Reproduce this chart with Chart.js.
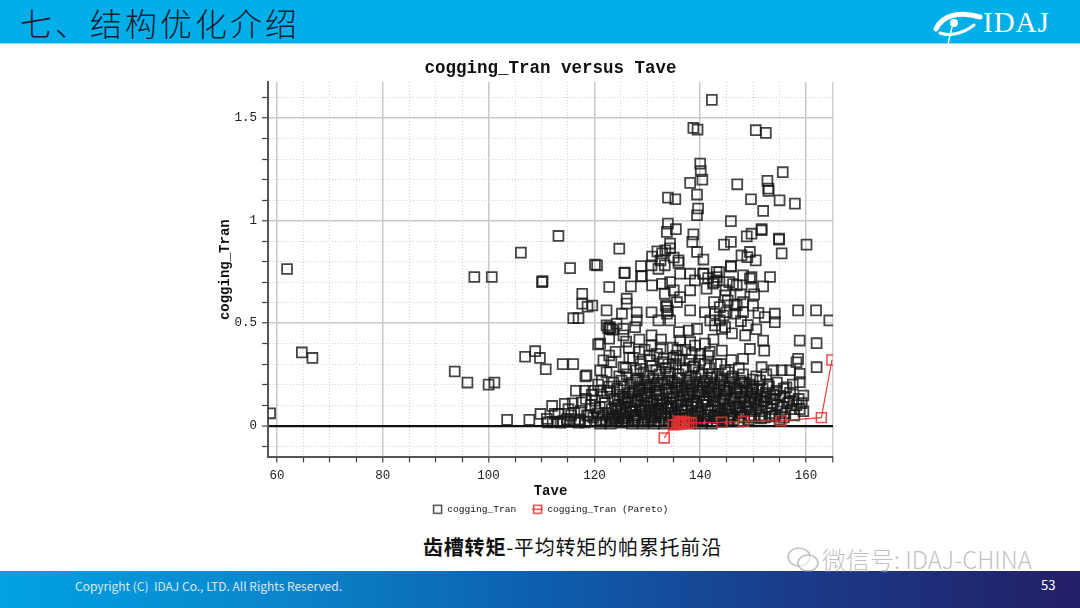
<!DOCTYPE html>
<html><head><meta charset="utf-8">
<script src="https://cdn.jsdelivr.net/npm/chart.js@4.4.1/dist/chart.umd.min.js"></script>
<style>
html,body{margin:0;padding:0;width:1080px;height:608px;overflow:hidden;background:#fff;font-family:'Noto Sans CJK SC',sans-serif;}
#hdr{position:absolute;left:0;top:0;width:1080px;height:44px;background:#00aee8;}
#hline{position:absolute;left:0;top:43px;width:1080px;height:1px;background:#8ad8f4;}
#htitle{position:absolute;left:20px;top:2px;font-size:32px;line-height:40px;color:#1b1d33;font-weight:300;letter-spacing:3px;}
#logo{position:absolute;left:930px;top:3px;}
#logotxt{position:absolute;left:983px;top:5px;font-family:'Liberation Serif',serif;font-size:29px;line-height:34px;color:#fff;letter-spacing:1px;}
#box{position:absolute;left:200px;top:55px;width:701px;height:469px;}
#caption{position:absolute;left:423px;top:533px;font-size:20px;line-height:28px;color:#111;letter-spacing:0.8px;white-space:nowrap;}
#caption b{font-weight:700;}
#wm{position:absolute;left:822px;top:544px;font-size:24px;line-height:30px;color:rgba(140,140,140,0.55);font-weight:300;white-space:nowrap;text-shadow:0 0 2px #fff;}
#wmicon{position:absolute;left:786px;top:545px;}
#ftr{position:absolute;left:0;top:571px;width:1080px;height:37px;background:linear-gradient(to right,#00a2e2 0%,#0a86cc 25%,#0d5fae 50%,#1a3d8c 72%,#231f66 100%);}
#copy{position:absolute;left:75px;top:578px;font-size:12px;line-height:16px;color:#dce8f6;white-space:nowrap;}
#pg{position:absolute;left:1041px;top:576px;font-size:13px;line-height:18px;color:#fff;}
</style></head>
<body>
<div id="hdr"></div><div id="hline"></div>
<div id="htitle">七、结构优化介绍</div>
<svg id="logo" width="56" height="42" viewBox="0 0 56 42">
 <path d="M6 26 C 12 12, 30 8, 50 14" stroke="#fff" stroke-width="5" fill="none" stroke-linecap="round"/>
 <circle cx="24" cy="20" r="4" fill="#fff"/>
 <path d="M22 24 L 18 41" stroke="#fff" stroke-width="1.5"/>
 <path d="M10 30 C 20 34, 34 30, 44 22" stroke="#fff" stroke-width="3" fill="none" stroke-linecap="round"/>
</svg>
<div id="logotxt">IDAJ</div>
<div id="box"><canvas id="c"></canvas></div>
<div id="caption"><b>齿槽转矩</b>-平均转矩的帕累托前沿</div>
<div id="ftr"></div>
<svg id="wmicon" width="36" height="30" viewBox="0 0 36 30">
 <ellipse cx="13" cy="12" rx="11" ry="9" stroke="rgba(150,150,150,0.6)" stroke-width="1.5" fill="none"/>
 <ellipse cx="22" cy="18" rx="10" ry="8" stroke="rgba(150,150,150,0.6)" stroke-width="1.5" fill="rgba(255,255,255,0.6)"/>
</svg>
<div id="wm">微信号: IDAJ-CHINA</div>
<div id="copy">Copyright (C)&nbsp; IDAJ Co., LTD. All Rights Reserved.</div>
<div id="pg">53</div>
<script>
// ---- data (Tave, cogging_Tran) ----
const outlierPts = [[58.7,0.06],[61.9,0.764],[64.7,0.357],[66.7,0.33],[93.6,0.264],[96.0,0.21],[97.3,0.725],[100.6,0.725],[100.0,0.20],[101.1,0.21],[103.5,0.028],[106.1,0.844],[107.7,0.028],[106.9,0.336],[108.8,0.363],[109.7,0.33],[110.1,0.70],[110.2,0.705],[110.8,0.275],[109.8,0.057],[113.2,0.925],[115.4,0.768],[114.0,0.30],[116.0,0.30],[117.7,0.643],[117.7,0.595],[118.7,0.58],[116.0,0.524],[117.0,0.524],[120.1,0.785],[120.7,0.396],[118.3,0.24],[118.5,0.245]];
const upperPts = [[142.2,1.589],[138.7,1.452],[139.5,1.444],[140.0,1.278],[140.1,1.241],[140.4,1.20],[138.1,1.184],[139.4,1.127],[133.9,1.112],[135.3,1.104],[139.6,1.059],[139.4,1.026],[133.9,0.985],[135.4,0.958],[133.7,0.945],[138.7,0.933],[138.5,0.896],[124.7,0.863],[139.4,0.847],[140.6,0.81],[134.3,0.888],[134.3,0.865],[133.4,0.855],[132.8,0.84],[131.9,0.85],[130.9,0.825],[132.5,0.806],[135.0,0.82],[135.9,0.795],[120.5,0.782],[125.7,0.746],[128.8,0.778],[129.0,0.729],[130.8,0.782],[132.1,0.765],[133.3,0.782],[135.9,0.806],[136.2,0.741],[138.1,0.741],[140.6,0.741],[143.1,0.749],
[150.5,1.441],[152.4,1.428],[155.6,1.236],[147.0,1.177],[152.7,1.194],[152.9,1.156],[152.9,1.145],[149.6,1.104],[155.0,1.099],[157.9,1.083],[151.9,1.047],[145.8,0.997],[151.6,0.953],[151.6,0.958],[149.7,0.936],[148.8,0.923],[145.8,0.896],[144.5,0.883],[154.9,0.907],[154.9,0.912],[160.1,0.883],[155.4,0.84],[149.4,0.847],[147.8,0.83],[148.9,0.822],[150.5,0.806],[145.8,0.775],[145.8,0.779],[143.6,0.749],[143.1,0.725],[148.1,0.733],[149.7,0.725],[153.2,0.725]];
const midPts = [[143.1,0.708],[149.4,0.717],[151.9,0.679],[149.7,0.676],[146.9,0.684],[148.1,0.602],[144.7,0.635],[144.4,0.537],[143.7,0.513],[146.6,0.546],[152.2,0.529],[154.1,0.546],[154.1,0.505],[158.5,0.562],[161.9,0.562],[164.4,0.513],
[142.6,0.603],[143.7,0.578],[142.8,0.546],[145.0,0.553],[146.9,0.586],[148.1,0.553],[142.8,0.489],[144.7,0.48],[142.6,0.70],[141.5,0.72],
[145.5,0.70],[146.2,0.69],[144.8,0.66],[147.6,0.64],[150.2,0.64],[145.2,0.61],[146.5,0.59],[147.7,0.51],[149.0,0.49],[150.6,0.47],[146.0,0.45],[148.5,0.44],[151.0,0.55],[150.0,0.585],
[125.7,0.744],[128.8,0.728],[122.8,0.676],[126.9,0.679],[130.9,0.684],[132.8,0.692],[134.3,0.70],[135.0,0.66],[133.3,0.643],[136.2,0.627],[139.0,0.708],[140.6,0.741],[138.1,0.66],[141.2,0.668],[142.4,0.692],[126.1,0.619],[126.1,0.595],[122.3,0.562],[125.2,0.546],[128.0,0.553],[130.8,0.553],[133.7,0.578],[133.7,0.546],[135.6,0.602],[138.1,0.562],[132.1,0.513],[134.3,0.513],[140.9,0.553],[141.9,0.513],[119.6,0.586],[122.3,0.489],[123.0,0.472],[124.2,0.497],[125.5,0.472],[127.7,0.48],[128.0,0.513],[125.5,0.44],[121.1,0.40],[122.8,0.424],[136.0,0.456],[137.8,0.464],[139.4,0.472],[136.2,0.415],[138.1,0.407],[130.8,0.44],[130.8,0.391],[140.9,0.40],[140.0,0.35],[140.0,0.318],[121.7,0.318],[122.8,0.342],[121.1,0.269],[125.5,0.285],[128.7,0.277],[130.6,0.318],[133.1,0.326],[136.2,0.318],[138.7,0.285],
[122.6,0.476],[123.4,0.468],[122.9,0.48],[133.5,0.585],[133.9,0.56],
[144.1,0.472],[151.9,0.415],[152.1,0.366],[158.8,0.415],[162.0,0.402],[149.4,0.374],[144.1,0.366],[143.1,0.30],[148.1,0.326],[158.5,0.326],[158.2,0.309],[162.0,0.285],[151.6,0.285],[153.8,0.269],[155.4,0.27],[157.0,0.27],[158.8,0.253],[158.8,0.212],[156.3,0.187],[159.5,0.147],[155.1,0.147],
[124.0,0.36],[126.5,0.38],[127.3,0.33],[129.5,0.37],[131.8,0.35],[132.6,0.42],[134.8,0.38],[135.5,0.34],[137.2,0.37],[139.0,0.39],[141.8,0.36],[142.5,0.42],[134.0,0.30],[128.5,0.42],[126.0,0.41]];
const bandPtsA = [[111.2,0.016],[111.0,0.033],[112.1,0.018],[112.5,0.057],[112.0,0.096],[113.0,0.02],[113.6,0.014],[113.2,0.057],[114.1,0.022],[114.4,0.106],[114.8,0.03],[115.3,0.018],[115.6,0.05],[115.1,0.08],[116.3,0.025],[115.9,0.109],[116.5,0.17],[116.2,0.062],[117.6,0.112],[117.2,0.03],[117.0,0.015],[117.4,0.072],[118.2,0.016],[118.2,0.17],[118.6,0.05],[118.4,0.13],[118.9,0.049],[119.8,0.04],[119.3,0.1],[119.5,0.15],[119.2,0.02],[119.8,0.17],[120.1,0.122],[120.4,0.02],[120.6,0.06],[120.2,0.085],[120.7,0.2],[121.3,0.03],[121.0,0.09],[121.5,0.14],[121.2,0.17],[121.6,0.05],[121.4,0.22],[121.1,0.01]];
const bandPtsB = [[122.2,0.02],[122.6,0.06],[122.0,0.11],[122.4,0.16],[122.8,0.19],[122.3,0.26],[122.9,0.04],[123.1,0.01],[123.5,0.05],[123.3,0.08],[123.7,0.13],[123.0,0.17],[123.6,0.21],[123.4,0.03],[123.2,0.31],[124.2,0.02],[124.6,0.04],[124.0,0.09],[124.4,0.12],[124.8,0.15],[124.3,0.18],[124.7,0.24],[124.1,0.07],[125.2,0.015],[125.5,0.05],[125.0,0.08],[125.8,0.11],[125.3,0.14],[125.6,0.19],[125.1,0.22],[125.9,0.28],[125.4,0.035],[126.3,0.02],[126.0,0.06],[126.7,0.09],[126.2,0.12],[126.5,0.16],[126.8,0.2],[126.1,0.25],[126.6,0.33],[126.4,0.04],[127.1,0.01],[127.5,0.03],[127.3,0.07],[127.8,0.1],[127.0,0.13],[127.6,0.17],[127.2,0.21],[127.9,0.27],[127.4,0.05],[128.3,0.02],[128.0,0.05],[128.6,0.08],[128.2,0.12],[128.8,0.15],[128.4,0.19],[128.1,0.23],[128.7,0.3],[128.5,0.36],[129.2,0.01],[129.6,0.04],[129.0,0.07],[129.4,0.1],[129.8,0.14],[129.1,0.18],[129.5,0.22],[129.3,0.26],[129.7,0.06],[130.1,0.02],[130.5,0.05],[130.3,0.09],[130.8,0.12],[130.0,0.16],[130.6,0.2],[130.2,0.24],[130.9,0.29],[130.4,0.34],[130.7,0.03],[131.3,0.01],[131.0,0.04],[131.6,0.08],[131.2,0.11],[131.8,0.15],[131.4,0.19],[131.1,0.23],[131.7,0.27],[131.5,0.06]];
const bandPtsC = [[132.2,0.02],[132.6,0.05],[132.0,0.07],[132.8,0.1],[132.4,0.13],[132.1,0.17],[132.7,0.21],[132.3,0.25],[132.9,0.31],[132.5,0.38],[133.1,0.01],[133.5,0.03],[133.3,0.06],[133.8,0.09],[133.0,0.12],[133.6,0.16],[133.2,0.2],[133.9,0.24],[133.4,0.28],[134.2,0.02],[134.6,0.04],[134.0,0.08],[134.4,0.11],[134.8,0.14],[134.1,0.18],[134.7,0.22],[134.3,0.26],[134.9,0.33],[134.5,0.05],[135.1,0.01],[135.5,0.03],[135.3,0.06],[135.8,0.1],[135.0,0.13],[135.6,0.17],[135.2,0.21],[135.9,0.25],[135.4,0.3],[135.7,0.37],[136.3,0.015],[136.0,0.05],[136.6,0.08],[136.2,0.12],[136.8,0.15],[136.4,0.19],[136.1,0.23],[136.7,0.28],[136.5,0.035],[137.2,0.02],[137.6,0.04],[137.0,0.07],[137.4,0.1],[137.8,0.14],[137.1,0.18],[137.5,0.22],[137.3,0.27],[137.9,0.32],[138.1,0.01],[138.5,0.05],[138.3,0.09],[138.8,0.12],[138.0,0.16],[138.6,0.2],[138.2,0.24],[138.9,0.29],[138.4,0.35],[138.7,0.03],[139.3,0.02],[139.0,0.04],[139.6,0.07],[139.2,0.11],[139.8,0.15],[139.4,0.19],[139.1,0.23],[139.7,0.26],[140.2,0.01],[140.6,0.03],[140.0,0.06],[140.4,0.1],[140.8,0.13],[140.1,0.17],[140.7,0.21],[140.3,0.25],[140.9,0.3],[141.3,0.02],[141.0,0.05],[141.6,0.08],[141.2,0.12],[141.8,0.15],[141.4,0.19],[141.1,0.22],[141.7,0.28],[141.5,0.34]];
const bandPtsD = [[142.2,0.01],[142.6,0.04],[142.0,0.07],[142.8,0.1],[142.4,0.14],[142.1,0.18],[142.7,0.21],[142.3,0.25],[142.9,0.045],[143.1,0.02],[143.5,0.05],[143.3,0.09],[143.8,0.12],[143.0,0.16],[143.6,0.2],[143.2,0.24],[143.9,0.3],[144.3,0.03],[144.0,0.06],[144.6,0.08],[144.2,0.11],[144.8,0.15],[144.4,0.19],[144.1,0.23],[144.7,0.27],[145.2,0.02],[145.6,0.04],[145.0,0.07],[145.4,0.1],[145.8,0.13],[145.1,0.17],[145.5,0.21],[145.3,0.26],[145.9,0.32],[146.3,0.03],[146.0,0.05],[146.6,0.09],[146.2,0.12],[146.8,0.16],[146.4,0.2],[146.1,0.24],[147.2,0.02],[147.6,0.06],[147.0,0.08],[147.4,0.11],[147.8,0.14],[147.1,0.18],[147.5,0.22],[147.3,0.28],[148.3,0.04],[148.0,0.07],[148.6,0.1],[148.2,0.13],[148.8,0.17],[148.4,0.21],[148.1,0.25],[149.2,0.03],[149.6,0.05],[149.0,0.09],[149.4,0.12],[149.8,0.16],[149.3,0.2],[150.1,0.04],[150.5,0.08],[150.3,0.11],[150.8,0.15],[150.0,0.19],[150.6,0.24],[151.2,0.05],[151.6,0.07],[151.0,0.1],[151.4,0.14],[151.8,0.18],[151.3,0.22],[152.2,0.04],[152.6,0.09],[152.0,0.12],[152.4,0.16],[152.8,0.2],[153.1,0.06],[153.5,0.08],[153.3,0.11],[153.8,0.15],[153.0,0.19],[154.2,0.05],[154.6,0.1],[154.0,0.13],[154.4,0.17],[155.2,0.07],[155.6,0.09],[156.1,0.06],[156.5,0.11],[156.0,0.14],[156.8,0.12],[157.2,0.08],[157.6,0.12],[157.0,0.16],[158.2,0.1],[158.6,0.13],[159.2,0.11]];
const bandPtsE = [[124.5,0.1],[125.7,0.13],[126.9,0.07],[127.6,0.115],[128.9,0.095],[129.9,0.125],[130.5,0.075],[131.9,0.105],[132.5,0.085],[133.6,0.11],[134.5,0.095],[135.4,0.115],[136.4,0.1],[137.6,0.125],[138.4,0.105],[139.5,0.09],[140.5,0.115],[141.4,0.1],[142.5,0.12],[143.4,0.075],[144.5,0.13],[145.6,0.085],[146.5,0.14],[147.4,0.09],[148.5,0.115],[149.5,0.14],[150.4,0.13],[151.5,0.12],[152.5,0.14],[153.6,0.13],
[124.9,0.06],[126.4,0.14],[127.3,0.16],[128.5,0.175],[129.6,0.16],[130.4,0.185],[131.6,0.17],[132.3,0.15],[133.5,0.18],[134.6,0.16],[135.5,0.185],[136.6,0.17],[137.5,0.155],[138.5,0.175],[139.6,0.165],[140.5,0.185],[141.5,0.165],[142.6,0.16],[143.5,0.175],[144.6,0.17],[145.6,0.185],[146.7,0.18],[147.6,0.165],[148.7,0.19],[149.7,0.18],[150.7,0.175],
[123.8,0.035],[125.8,0.025],[127.7,0.04],[129.5,0.03],[131.4,0.045],[133.3,0.04],[135.2,0.045],[137.3,0.05],[139.5,0.045],[141.5,0.04],[143.6,0.035],[145.5,0.055],[147.5,0.045],[149.5,0.07],[151.5,0.035],[153.6,0.045],[155.8,0.04],[157.8,0.05],[159.5,0.07],[155.0,0.03],[158.8,0.08],
[127.9,0.22],[129.9,0.2],[131.9,0.21],[133.8,0.22],[135.8,0.2],[137.9,0.21],[139.9,0.2],[141.9,0.235],[143.9,0.22],[145.9,0.23],[147.9,0.21],[149.9,0.225],[152.5,0.25],[154.5,0.21],[155.8,0.18],[157.5,0.2]];
const paretoPts = [[133.2,-0.06],[134.9,0.004],[135.6,0.005],[135.9,0.02],[136.1,0.008],[136.3,0.015],[136.5,0.01],[136.9,0.011],[137.0,0.02],[137.4,0.012],[137.8,0.014],[138.3,0.015],[144.1,0.016],[148.2,0.021],[155.3,0.024],[162.9,0.039],[164.9,0.32]];
const xTickLabels = [60,80,100,120,140,160];
const yTickLabels = [0,0.5,1,1.5];
const seriesNames = ['cogging_Tran','cogging_Tran (Pareto)'];

const coggingTran = [].concat(outlierPts, upperPts, midPts, bandPtsA, bandPtsB, bandPtsC, bandPtsD, bandPtsE);
const toXY = a => a.map(p => ({x:p[0], y:p[1]}));

function near(v, step){ return Math.abs(v/step - Math.round(v/step)) < 1e-6; }
function icon(color, withLine){
  const c = document.createElement('canvas'); c.width = 11; c.height = 11;
  const g = c.getContext('2d');
  g.strokeStyle = color; g.lineWidth = 1.3;
  g.strokeRect(1.5,1.5,8,8);
  if (withLine){ g.beginPath(); g.moveTo(0,5.5); g.lineTo(11,5.5); g.stroke(); }
  return c;
}
const mono = 'Liberation Mono, DejaVu Sans Mono, monospace';

new Chart(document.getElementById('c'), {
  type: 'scatter',
  data: { datasets: [
    { label: seriesNames[1], data: toXY(paretoPts), showLine: true, borderColor: 'rgba(228,40,40,0.9)', borderWidth: 1.2,
      pointStyle: 'rect', pointRadius: 7, pointBorderWidth: 1.6, pointBorderColor: 'rgba(228,50,50,0.85)',
      pointBackgroundColor: 'rgba(255,255,255,0)', clip: 0 },
    { label: seriesNames[0], data: toXY(coggingTran), showLine: false,
      pointStyle: 'rect', pointRadius: 7, pointBorderWidth: 1.8, pointBorderColor: 'rgba(22,22,22,0.8)',
      pointBackgroundColor: 'rgba(0,0,0,0)', clip: 0 }
  ]},
  options: {
    responsive: true, maintainAspectRatio: false, animation: false,
    layout: { padding: { left: 0, right: 68, top: 0, bottom: 0 } },
    plugins: {
      tooltip: { enabled: false },
      title: { display: true, fullSize: false, text: 'cogging_Tran versus Tave', color: '#111',
        font: { family: mono, size: 17.5, weight: 'bold' }, padding: { top: 3, bottom: 3 } },
      legend: { position: 'bottom', fullSize: false, labels: {
        usePointStyle: true, padding: 5, color: '#111', font: { family: mono, size: 9.6 },
        generateLabels: () => [
          { text: seriesNames[0] + '  ', pointStyle: icon('#333', false), fillStyle: 'transparent', strokeStyle: 'transparent', lineWidth: 0, datasetIndex: 1, hidden: false, fontColor: '#111' },
          { text: seriesNames[1], pointStyle: icon('#e03030', true), fillStyle: 'transparent', strokeStyle: 'transparent', lineWidth: 0, datasetIndex: 0, hidden: false, fontColor: '#111' }
        ] } }
    },
    scales: {
      x: { type: 'linear', min: 58.3, max: 165.1,
        afterFit: s => { s.height = 42; },
        title: { display: true, text: 'Tave', color: '#111', font: { family: mono, size: 14, weight: 'bold' }, padding: { top: 0, bottom: 0 } },
        ticks: { stepSize: 5, includeBounds: false, autoSkip: false, maxRotation: 0, padding: 6, color: '#222', font: { family: mono, size: 12.5 },
          callback: v => xTickLabels.some(t => Math.abs(t - v) < 1e-6) ? String(Math.round(v)) : '' },
        grid: {
          color: c => { const v = c.tick ? c.tick.value : 0; if (v > 164.9) return '#cfcfcf'; if (near(v,20)) return '#c9c9c9'; return '#d2d2d2'; },
          lineWidth: c => { const v = c.tick ? c.tick.value : 0; return near(v,20) || v > 164.9 ? 1.5 : 1; },
          tickColor: '#444', tickLength: 5, tickWidth: 1.2 },
        border: { display: true, color: '#555', width: 2,
          dash: c => { const v = c.tick ? c.tick.value : 0; return (c.tick && !near(v,20) && v < 164.9) ? [1,2] : []; } }
      },
      y: { type: 'linear', min: -0.155, max: 1.676,
        afterFit: s => { s.width = 68; },
        title: { display: true, text: 'cogging_Tran', color: '#111', font: { family: mono, size: 14, weight: 'bold' }, padding: { top: 17, bottom: 0 } },
        ticks: { stepSize: 0.1, includeBounds: false, autoSkip: false, padding: 5, color: '#222', font: { family: mono, size: 12.5 },
          callback: v => yTickLabels.some(t => Math.abs(t - v) < 1e-6) ? String(Math.round(v*10)/10) : '' },
        grid: {
          color: c => { const v = c.tick ? c.tick.value : 1; if (Math.abs(v) < 1e-6) return '#111'; if (near(v,0.5)) return '#c9c9c9'; return '#d2d2d2'; },
          lineWidth: c => { const v = c.tick ? c.tick.value : 1; if (Math.abs(v) < 1e-6) return 2.2; return near(v,0.5) ? 1.5 : 1; },
          tickColor: '#444', tickLength: 6, tickWidth: 1.2 },
        border: { display: true, color: '#555', width: 2,
          dash: c => { const v = c.tick ? c.tick.value : 0; return (c.tick && !near(v,0.5)) ? [1,2] : []; } }
      }
    }
  }
});
</script>
</body></html>
